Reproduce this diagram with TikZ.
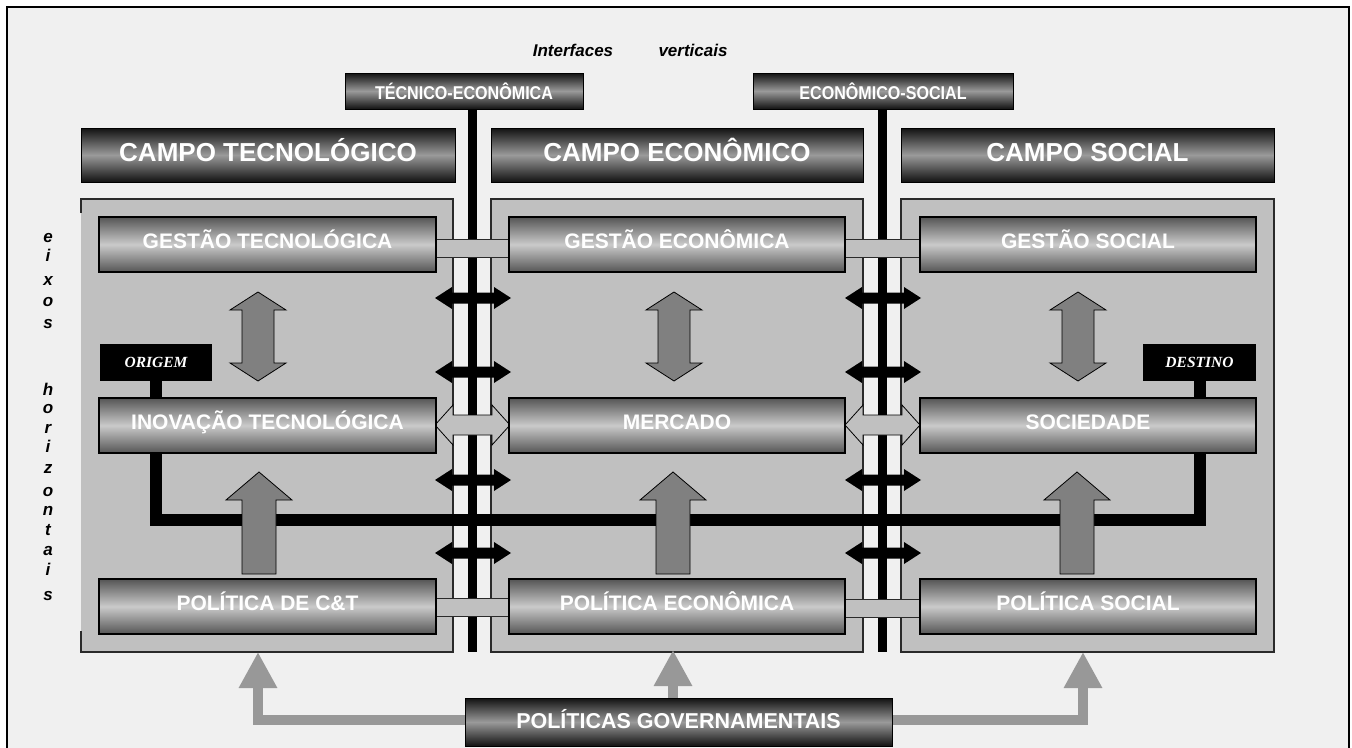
\documentclass[tikz,border=0pt]{standalone}
\usepackage{fontspec}
\setmainfont{Liberation Sans}
\newfontfamily\tmsf{Liberation Serif}
\newfontfamily\condsf[FakeStretch=0.87]{Liberation Sans}
\usetikzlibrary{arrows.meta,calc}
\definecolor{bgc}{HTML}{F0F0F0}
\definecolor{panelc}{HTML}{C0C0C0}
\definecolor{arrc}{HTML}{808080}
\definecolor{govc}{HTML}{989898}
\definecolor{boxdark}{HTML}{555555}
\definecolor{boxlight}{HTML}{CACACA}
\definecolor{hdrdark}{HTML}{121212}
\definecolor{hdrmid}{HTML}{9A9A9A}
\definecolor{pline}{HTML}{2A2A2A}

\newcommand\vdarr[3]{% cx, ytop, ybot
 \filldraw[fatarrow] (#1,#2) -- (#1+28,#2+18) -- (#1+16,#2+18) -- (#1+16,#3-18) -- (#1+28,#3-18) -- (#1,#3) -- (#1-28,#3-18) -- (#1-16,#3-18) -- (#1-16,#2+18) -- (#1-28,#2+18) -- cycle;}
\newcommand\uparr[4]{% cx, ytip, ybase, ybottom
 \filldraw[fatarrow] (#1,#2) -- (#1+33,#3) -- (#1+17,#3) -- (#1+17,#4) -- (#1-17,#4) -- (#1-17,#3) -- (#1-33,#3) -- cycle;}
\newcommand\hollowarr[3]{% x1, x2, cy
 \filldraw[hollow] (#1,#3) -- (#1+18,#3-20) -- (#1+18,#3-10) -- (#2-18,#3-10) -- (#2-18,#3-20) -- (#2,#3) -- (#2-18,#3+20) -- (#2-18,#3+10) -- (#1+18,#3+10) -- (#1+18,#3+20) -- cycle;}
\newcommand\blkarr[3]{% x1, x2, cy
 \fill[black] (#1,#3) -- (#1+17,#3-11) -- (#1+17,#3-5.5) -- (#2-17,#3-5.5) -- (#2-17,#3-11) -- (#2,#3) -- (#2-17,#3+11) -- (#2-17,#3+5.5) -- (#1+17,#3+5.5) -- (#1+17,#3+11) -- cycle;}

\begin{document}
\begin{tikzpicture}[x=1pt,y=-1pt,
  hdr/.style={draw=black, line width=0.6pt, shading=axis, top color=hdrdark, bottom color=hdrdark, middle color=hdrmid, text=white, inner sep=0pt, outer sep=0pt, anchor=north west, text height=18.6pt, text depth=5pt, font=\bfseries\fontsize{26}{26}\selectfont},
  ifc/.style={hdr, minimum height=36pt, text height=17.2pt, text depth=0pt, font=\condsf\bfseries\fontsize{18.5}{18.5}\selectfont},
  govbox/.style={hdr, minimum height=48pt, text height=15.4pt, text depth=2pt, font=\bfseries\fontsize{21.5}{21.5}\selectfont},
  ibox/.style={draw=black, line width=1.3pt, shading=axis, top color=boxdark, bottom color=boxdark, middle color=boxlight, text=white, inner sep=0pt, outer sep=0pt, anchor=north west, minimum height=55pt, text height=15pt, text depth=7pt, font=\bfseries\fontsize{21}{21}\selectfont},
  tag/.style={fill=black, text=white, inner sep=0pt, outer sep=0pt, anchor=north west, minimum height=37pt, text height=10.3pt, text depth=0pt, font=\tmsf\bfseries\itshape\fontsize{15.5}{15.5}\selectfont},
  panel/.style={fill=panelc},
  pedge/.style={draw=pline, line width=1.2pt},
  bridge/.style={fill=panelc, draw=pline, line width=0.8pt},
  fatarrow/.style={fill=arrc, draw=black, line width=0.8pt, line join=miter},
  hollow/.style={fill=panelc, draw=black, line width=0.8pt, line join=miter},
  govline/.style={draw=govc, line width=10pt, line join=miter, -{Triangle[width=36pt,length=36pt]}},
  vt/.style={anchor=base, inner sep=0pt, font=\bfseries\itshape\fontsize{17}{17}\selectfont},
  ttl/.style={inner sep=0pt, font=\bfseries\itshape\fontsize{17}{17}\selectfont}
]
\useasboundingbox (0,0) rectangle (1352,747);
\fill[white] (0,0) rectangle (1352,747);
\draw[line width=2pt, fill=bgc] (7,7) rectangle (1349,749);

% title
\node[ttl] (t1) at (573,50) {Interfaces};
\node[ttl] (t2) at (693,50) {verticais};

% interface labels and vertical bars
\node[ifc, minimum width=238pt] (ite) at (345,73) {TÉCNICO-ECONÔMICA};
\node[ifc, minimum width=260pt] (ies) at (753,73) {ECONÔMICO-SOCIAL};
\coordinate (b1) at (472.5,652);
\coordinate (b2) at (882.5,652);
\draw[line width=9pt] (ite.south -| b1) -- (b1);
\draw[line width=9pt] (ies.south -| b2) -- (b2);

% panels
\fill[panel] (81,199) rectangle (453,652);
\draw[pedge] (81,213) |- (453,199) |- (81,652) -- (81,631);
\filldraw[panel, pedge] (491,199) rectangle (863,652);
\filldraw[panel, pedge] (901,199) rectangle (1274,652);

% field headers
\node[hdr, minimum width=374pt, minimum height=54pt] (ct) at (81,128) {CAMPO TECNOLÓGICO};
\node[hdr, minimum width=372pt, minimum height=54pt] (ce) at (491,128) {CAMPO ECONÔMICO};
\node[hdr, minimum width=373pt, minimum height=54pt] (cs) at (901,128) {CAMPO SOCIAL};

% bridges
\filldraw[bridge] (436,239) rectangle (509,257);
\filldraw[bridge] (845,239) rectangle (920,257);
\filldraw[bridge] (436,598) rectangle (509,616);
\filldraw[bridge] (845,599) rectangle (920,617);

% small black double arrows
\foreach \yy in {298,372,480,553} {
  \blkarr{435}{511}{\yy}
  \blkarr{845}{921}{\yy}
}

% origin - destination axis
\node[tag, minimum width=112pt] (orig) at (100,344) {ORIGEM};
\node[tag, minimum width=113pt] (dest) at (1143,344) {DESTINO};
\coordinate (hl) at (0,520);
\draw[line width=12pt, line join=miter] (orig.south) -- (orig.south |- hl) -| (dest.south);

% hollow arrows
\hollowarr{435}{510}{425}
\hollowarr{845}{920}{425}

% inner boxes
\node[ibox, minimum width=337pt] (gt) at (99,217) {GESTÃO TECNOLÓGICA};
\node[ibox, minimum width=336pt] (ge) at (509,217) {GESTÃO ECONÔMICA};
\node[ibox, minimum width=336pt] (gs) at (920,217) {GESTÃO SOCIAL};
\node[ibox, minimum width=337pt] (it) at (99,398) {INOVAÇÃO TECNOLÓGICA};
\node[ibox, minimum width=336pt] (me) at (509,398) {MERCADO};
\node[ibox, minimum width=336pt] (so) at (920,398) {SOCIEDADE};
\node[ibox, minimum width=337pt] (pt) at (99,579) {POLÍTICA DE C\&T};
\node[ibox, minimum width=336pt] (pe) at (509,579) {POLÍTICA ECONÔMICA};
\node[ibox, minimum width=336pt] (ps) at (920,579) {POLÍTICA SOCIAL};

% gray arrows inside fields
\vdarr{258}{292}{381}
\vdarr{674}{292}{381}
\vdarr{1078}{292}{381}
\uparr{259}{472}{500}{574}
\uparr{673}{472}{500}{574}
\uparr{1077}{472}{500}{574}

% government policies
\coordinate (gy) at (0,719.5);
\coordinate (gl) at (258,652);
\coordinate (gm) at (673,650);
\coordinate (gr) at (1083,652);
\node[govbox, minimum width=427pt] (gov) at (465,698) {POLÍTICAS GOVERNAMENTAIS};
\draw[govline] (gov.west |- gy) -| (gl);
\draw[govline] (gov.north -| gm) -- (gm);
\draw[govline] (gov.east |- gy) -| (gr);
\node[govbox, minimum width=427pt] (gov2) at (465,698) {POLÍTICAS GOVERNAMENTAIS};

% left vertical text
\foreach \l/\yy [count=\k] in {e/237,i/256,x/280,o/301,s/323,h/390,o/408,r/428,i/447,z/468,o/491,n/510,t/530,a/550,i/570,s/595} {
  \node[vt] (v\k) at (48,\yy+5) {\l};
}
\end{tikzpicture}
\end{document}
